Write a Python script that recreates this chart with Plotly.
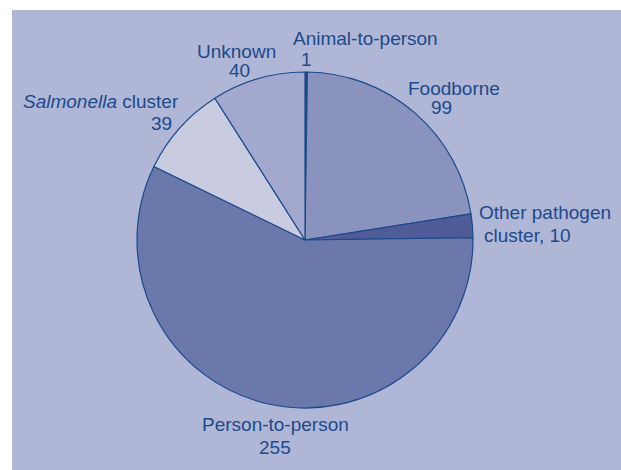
import plotly.graph_objects as go

W, H = 621, 470

categories = ["Animal-to-person", "Foodborne", "Other pathogen cluster", "Person-to-person",
              "Salmonella cluster", "Unknown"]
values = [1, 99, 10, 255, 39, 40]
colors = ["#1B4A8C", "#8A93BE", "#4F5C98", "#6B78AC", "#C9CCE1", "#A3A9CE"]

# label texts (name line, value line) and their pixel positions (center x, center y)
name_texts = ["Animal-to-person", "Foodborne", "Other pathogen", "Person-to-person",
              "<i>Salmonella</i> cluster", "Unknown"]
value_texts = [str(values[0]), str(values[1]), "cluster, " + str(values[2]), str(values[3]),
               str(values[4]), str(values[5])]
name_pos = [(366, 38), (454, 88), (545, 212), (275, 424), (101, 102), (236, 52)]
value_pos = [(306, 60), (441, 107), (527, 235), (275, 447), (161, 124), (239, 71)]

TEXT = "#1D4A8A"
cx, cy, r = 305, 240, 168

fig = go.Figure(go.Pie(
    labels=categories, values=values, sort=False, direction="clockwise", rotation=0,
    marker=dict(colors=colors, line=dict(color="#1B4A8C", width=1.2)),
    textinfo="none", hoverinfo="label+value", showlegend=False,
    domain=dict(x=[(cx - r) / W, (cx + r) / W], y=[(H - cy - r) / H, (H - cy + r) / H]),
))

anns = []
for t, (x, y) in zip(name_texts, name_pos):
    anns.append(dict(text=t, x=x / W, y=1 - y / H, xref="paper", yref="paper",
                     xanchor="center", yanchor="middle", showarrow=False, borderpad=0,
                     font=dict(size=19, color=TEXT, family="Liberation Sans, Arial")))
for t, (x, y) in zip(value_texts, value_pos):
    anns.append(dict(text=t, x=x / W, y=1 - y / H, xref="paper", yref="paper",
                     xanchor="center", yanchor="middle", showarrow=False, borderpad=0,
                     font=dict(size=19, color=TEXT, family="Liberation Sans, Arial")))

fig.update_layout(
    width=W, height=H, margin=dict(l=0, r=0, t=0, b=0),
    paper_bgcolor="white", plot_bgcolor="white",
    annotations=anns,
    shapes=[dict(type="rect", xref="paper", yref="paper", x0=12 / W, x1=1, y0=0, y1=1 - 10 / H,
                 fillcolor="#AFB6D6", line=dict(width=0), layer="below")],
)

fig.write_html("out.html")
